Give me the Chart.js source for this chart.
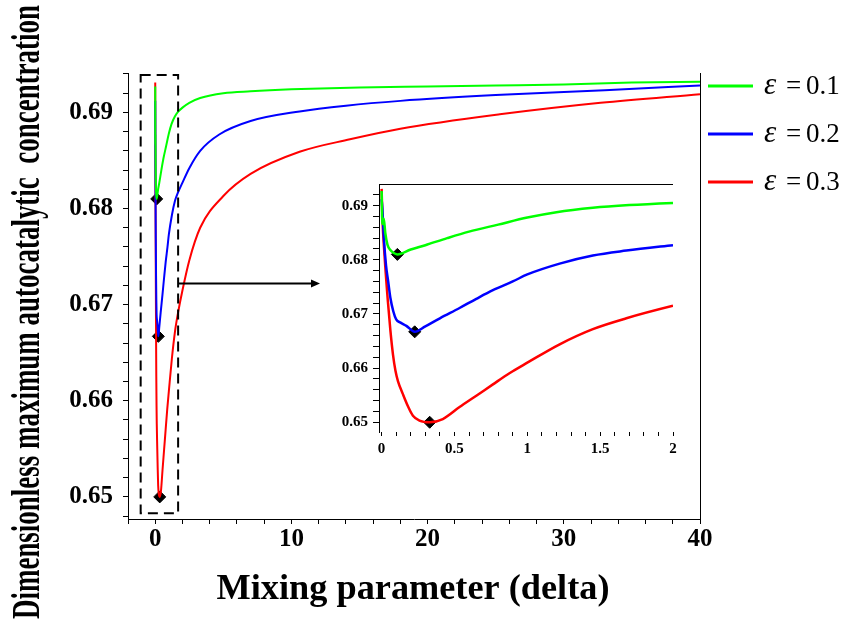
<!DOCTYPE html>
<html><head><meta charset="utf-8">
<script src="https://cdn.jsdelivr.net/npm/chart.js@4.4.0/dist/chart.umd.min.js"></script>
<style>
html,body{margin:0;padding:0;background:#fff;}
#wrap{position:relative;width:845px;height:622px;overflow:hidden;}
#main{position:absolute;left:0;top:0;}
#inset{position:absolute;left:330px;top:170px;}
</style></head><body>
<div id="wrap"><canvas id="main" width="845" height="622"></canvas><canvas id="inset" width="360" height="300"></canvas></div>
<script>
// ---------- data ----------
const seriesNames = ['0.1', '0.2', '0.3'];
const seriesColors = ['#00ff00', '#0000ff', '#ff0000'];

const greenX = [0, 0.003, 0.008, 0.015, 0.025, 0.04, 0.06, 0.08, 0.108, 0.2, 0.3, 0.45, 0.6, 0.8, 1.0, 1.2, 1.45, 1.7, 2.0, 2.5, 3.3, 5, 7, 10, 15, 20, 25, 30, 35, 40];
const greenY = [0.6927, 0.6880, 0.6866, 0.6876, 0.6850, 0.6828, 0.6818, 0.6813, 0.6810, 0.6819, 0.6827, 0.6840, 0.6852, 0.6865, 0.6878, 0.6888, 0.6896, 0.6901, 0.6905, 0.6910, 0.6915, 0.6920, 0.6922, 0.6924, 0.6926, 0.6927, 0.6928, 0.6929, 0.6931, 0.6932];

const blueX = [0, 0.005, 0.015, 0.03, 0.045, 0.06, 0.08, 0.1, 0.13, 0.17, 0.227, 0.3, 0.4, 0.535, 0.65, 0.764, 0.9, 1.0, 1.222, 1.45, 1.68, 2.0, 2.5, 3.3, 4.7, 7, 10.6, 14, 18, 25, 33, 40];
const blueY = [0.6912, 0.6895, 0.6842, 0.6790, 0.6760, 0.6730, 0.6705, 0.6690, 0.6684, 0.6678, 0.6667, 0.6677, 0.6692, 0.6711, 0.6728, 0.6744, 0.6760, 0.6773, 0.6793, 0.6808, 0.6817, 0.6827, 0.6842, 0.6860, 0.6877, 0.6891, 0.6901, 0.6907, 0.6912, 0.6918, 0.6923, 0.6928];

const redX = [0, 0.005, 0.02, 0.043, 0.06, 0.078, 0.095, 0.112, 0.146, 0.18, 0.215, 0.26, 0.33, 0.42, 0.535, 0.65, 0.764, 0.88, 1.0, 1.222, 1.45, 1.68, 2.0, 2.5, 3.3, 5, 7, 10.6, 14.3, 18, 25.3, 32.7, 40];
const redY = [0.6931, 0.6880, 0.6808, 0.6723, 0.6670, 0.6625, 0.6595, 0.6576, 0.6552, 0.6530, 0.6512, 0.6503, 0.6500, 0.6506, 0.6528, 0.6549, 0.6570, 0.6591, 0.6610, 0.6644, 0.6672, 0.6692, 0.6715, 0.6746, 0.6780, 0.6813, 0.6836, 0.6859, 0.6872, 0.6883, 0.6898, 0.6910, 0.6919];

// minima (diamond markers)
const minX = [0.108, 0.227, 0.33];
const minY = [0.6810, 0.6667, 0.6500];

// main axes ticks
const mainXTicks = [-2, 0, 2, 4, 6, 8, 10, 12, 14, 16, 18, 20, 22, 24, 26, 28, 30, 32, 34, 36, 38, 40];
const mainXLabels = ['0', '10', '20', '30', '40'];
const mainYTicks = [0.648, 0.650, 0.652, 0.654, 0.656, 0.658, 0.660, 0.662, 0.664, 0.666, 0.668, 0.670, 0.672, 0.674, 0.676, 0.678, 0.680, 0.682, 0.684, 0.686, 0.688, 0.690, 0.692, 0.694];
const mainYLabels = ['0.65', '0.66', '0.67', '0.68', '0.69'];

// inset axes ticks
const insetXTicks = [0, 0.1, 0.2, 0.3, 0.4, 0.5, 0.6, 0.7, 0.8, 0.9, 1.0, 1.1, 1.2, 1.3, 1.4, 1.5, 1.6, 1.7, 1.8, 1.9, 2.0];
const insetXLabels = ['0', '0.5', '1', '1.5', '2'];
const insetYTicks = [0.650, 0.652, 0.654, 0.656, 0.658, 0.660, 0.662, 0.664, 0.666, 0.668, 0.670, 0.672, 0.674, 0.676, 0.678, 0.680, 0.682, 0.684, 0.686, 0.688, 0.690, 0.692];
const insetYLabels = ['0.65', '0.66', '0.67', '0.68', '0.69'];

// zoom box and arrow (data units of main axes)
const zoomBoxX = [-1.07, 1.68];
const zoomBoxY = [0.6483, 0.6939];
const arrowX = [1.68, 12.1];
const arrowY = 0.6722;

const yTitle = 'Dimensionless maximum autocatalytic  concentration';
const xTitle = 'Mixing parameter (delta)';

// ---------- helpers ----------
const FONT = "'Liberation Serif', 'Times New Roman', serif";
const seriesXs = [greenX, blueX, redX];
const seriesYs = [greenY, blueY, redY];
function pts(xs, ys) { return xs.map((x, i) => ({x: x, y: ys[i]})); }
function labelFor(v, labels) {
  for (const l of labels) { if (Math.abs(parseFloat(l) - v) < 1e-7) return l; }
  return '';
}
function buildDatasets(lw) {
  const ds = seriesNames.map((n, i) => ({
    label: 'ε = ' + n,
    data: pts(seriesXs[i], seriesYs[i]),
    showLine: true, borderColor: seriesColors[i], backgroundColor: seriesColors[i],
    borderWidth: lw, pointRadius: 0, pointHoverRadius: 0, fill: false,
    cubicInterpolationMode: 'monotone'
  }));
  ds.push({
    label: 'minima', data: pts(minX, minY), showLine: false,
    pointStyle: 'rectRot', pointRadius: 6, pointHoverRadius: 6,
    backgroundColor: '#000', borderColor: '#000', borderWidth: 1
  });
  return ds;
}
function axis(min, max, ticks, labels, size, pad, tl, fitKey, fitVal) {
  const o = {
    type: 'linear', min: min, max: max,
    afterBuildTicks: s => { s.ticks = ticks.map(v => ({value: v})); },
    ticks: {
      callback: v => labelFor(v, labels), autoSkip: false, maxRotation: 0, minRotation: 0,
      color: '#000', padding: pad, font: {family: FONT, weight: 'bold', size: size}
    },
    grid: {display: true, drawOnChartArea: false, drawTicks: true, tickLength: tl, color: '#000', lineWidth: 1},
    border: {display: true, color: '#000', width: 1}
  };
  o.afterFit = s => { s[fitKey] = fitVal; };
  return o;
}

// ---------- main chart ----------
const mainDecor = {
  id: 'mainDecor',
  afterDraw(chart) {
    const ctx = chart.ctx, a = chart.chartArea, xs = chart.scales.x, ys = chart.scales.y;
    ctx.save();
    // right frame line
    ctx.strokeStyle = '#000'; ctx.lineWidth = 1;
    ctx.beginPath(); ctx.moveTo(a.right + 0.5, a.top); ctx.lineTo(a.right + 0.5, a.bottom); ctx.stroke();
    // dashed zoom box
    const bx0 = xs.getPixelForValue(zoomBoxX[0]), bx1 = xs.getPixelForValue(zoomBoxX[1]);
    const by0 = ys.getPixelForValue(zoomBoxY[1]), by1 = ys.getPixelForValue(zoomBoxY[0]);
    ctx.setLineDash([10, 6]); ctx.lineWidth = 2; ctx.strokeStyle = '#000';
    ctx.strokeRect(bx0, by0, bx1 - bx0, by1 - by0);
    ctx.setLineDash([]);
    // arrow
    const ax0 = xs.getPixelForValue(arrowX[0]), ax1 = xs.getPixelForValue(arrowX[1]), ay = ys.getPixelForValue(arrowY);
    ctx.lineWidth = 2;
    ctx.beginPath(); ctx.moveTo(ax0, ay); ctx.lineTo(ax1 - 6, ay); ctx.stroke();
    ctx.fillStyle = '#000';
    ctx.beginPath(); ctx.moveTo(ax1, ay); ctx.lineTo(ax1 - 9, ay - 4); ctx.lineTo(ax1 - 9, ay + 4); ctx.closePath(); ctx.fill();
    // legend
    seriesNames.forEach((n, i) => {
      const ly = a.top + 13 + i * 48;
      ctx.strokeStyle = seriesColors[i]; ctx.lineWidth = 3;
      ctx.beginPath(); ctx.moveTo(a.right + 8, ly); ctx.lineTo(a.right + 53, ly); ctx.stroke();
      ctx.fillStyle = '#000'; ctx.textBaseline = 'alphabetic'; ctx.textAlign = 'left';
      ctx.font = 'italic 31px ' + FONT;
      ctx.fillText('ε', a.right + 64, ly + 8);
      ctx.font = '27px ' + FONT;
      ctx.fillText('=', a.right + 86, ly + 8);
      ctx.fillText(n, a.right + 106, ly + 8);
    });
    // axis titles
    ctx.fillStyle = '#000';
    ctx.font = 'bold 36px ' + FONT; ctx.textAlign = 'center'; ctx.textBaseline = 'alphabetic';
    const xw = ctx.measureText(xTitle).width;
    ctx.save();
    ctx.translate(413, 599); ctx.scale(393 / xw, 1);
    ctx.fillText(xTitle, 0, 0);
    ctx.restore();
    ctx.save();
    ctx.translate(28, 312); ctx.rotate(-Math.PI / 2);
    ctx.font = 'bold 41px ' + FONT; ctx.textBaseline = 'middle'; ctx.textAlign = 'center';
    const w = ctx.measureText(yTitle).width;
    ctx.scale(614 / w, 1);
    ctx.fillText(yTitle, 0, 0);
    ctx.restore();
    ctx.restore();
  }
};

new Chart(document.getElementById('main'), {
  type: 'scatter',
  data: {datasets: buildDatasets(2)},
  options: {
    responsive: false, animation: false, devicePixelRatio: 1,
    layout: {padding: {left: 0, top: 73, right: 145, bottom: 0}},
    plugins: {legend: {display: false}, tooltip: {enabled: false}, title: {display: false}},
    scales: {
      x: axis(-2, 40, mainXTicks, mainXLabels, 25, 1, 5, 'height', 103),
      y: axis(0.6477, 0.6941, mainYTicks, mainYLabels, 25, 10, 5, 'width', 128)
    }
  },
  plugins: [mainDecor]
});

// ---------- inset chart ----------
const insetDecor = {
  id: 'insetDecor',
  beforeDraw(chart) {
    const ctx = chart.ctx, a = chart.chartArea;
    ctx.save(); ctx.fillStyle = '#fff';
    ctx.fillRect(a.left, a.top, a.right - a.left, a.bottom - a.top);
    ctx.restore();
  },
  afterDraw(chart) {
    const ctx = chart.ctx, a = chart.chartArea;
    ctx.save(); ctx.strokeStyle = '#000'; ctx.lineWidth = 1;
    ctx.beginPath(); ctx.moveTo(a.left, a.top + 0.5); ctx.lineTo(a.right, a.top + 0.5); ctx.stroke();
    ctx.restore();
  }
};
const insetX = axis(-0.018, 2.0, insetXTicks, insetXLabels, 15, 4, 4, 'height', 38);
insetX.border = {display: false};
new Chart(document.getElementById('inset'), {
  type: 'scatter',
  data: {datasets: buildDatasets(2.5)},
  options: {
    responsive: false, animation: false, devicePixelRatio: 1,
    layout: {padding: {left: 0, top: 13, right: 17, bottom: 0}},
    plugins: {legend: {display: false}, tooltip: {enabled: false}},
    scales: {
      x: insetX,
      y: axis(0.6482, 0.6940, insetYTicks, insetYLabels, 15, 5, 6, 'width', 49)
    }
  },
  plugins: [insetDecor]
});
</script>
</body></html>
